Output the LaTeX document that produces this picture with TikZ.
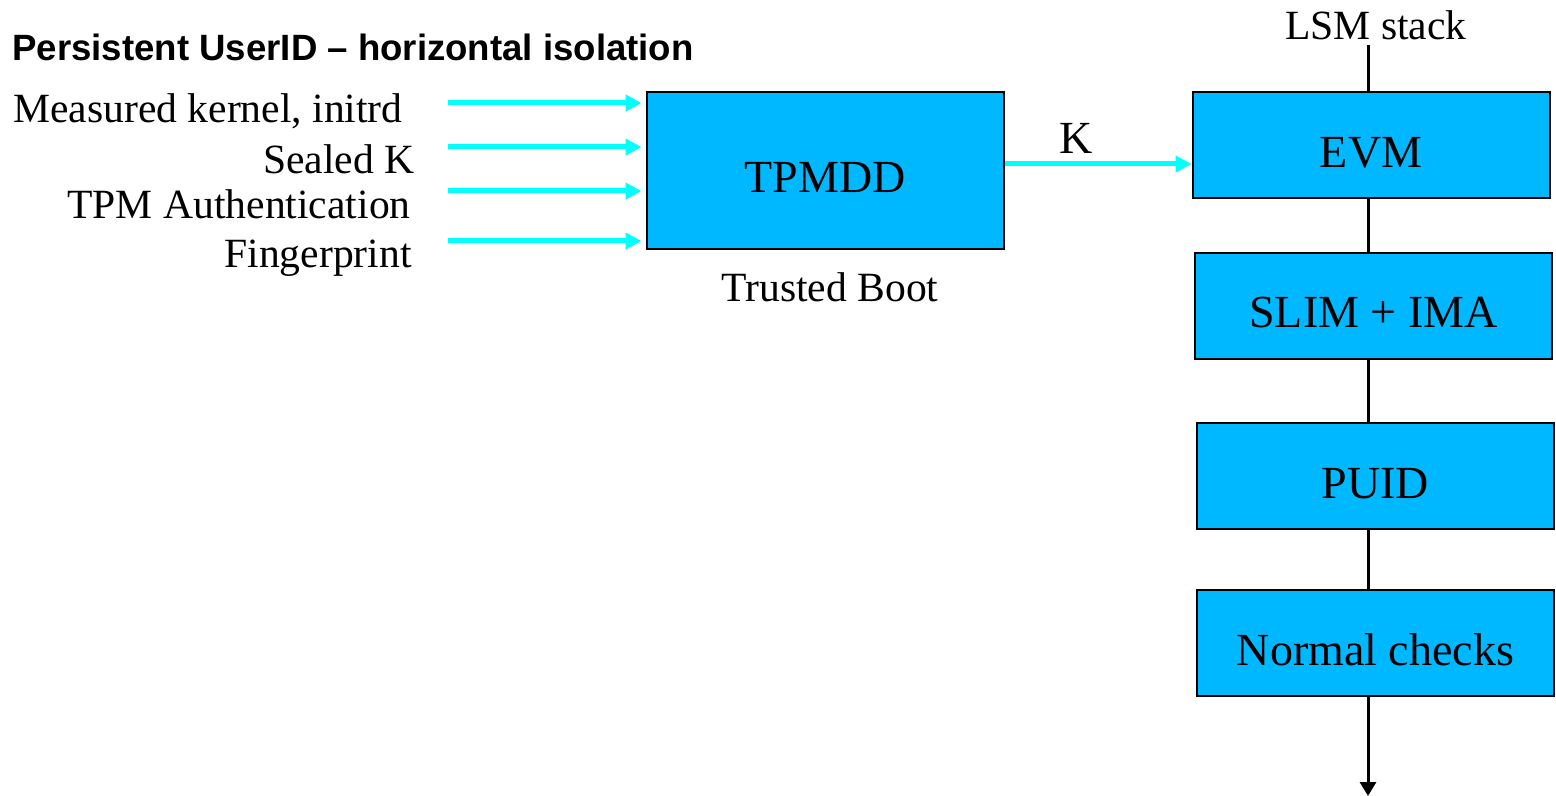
\documentclass[tikz,border=0pt]{standalone}
\usepackage{fontspec}
\setmainfont{Liberation Serif}
\newfontfamily\titlefont{Liberation Sans}
\usepackage{tikz}
\usetikzlibrary{arrows.meta,positioning,calc}
\definecolor{lsmblue}{RGB}{0,184,255}
\definecolor{feedcyan}{RGB}{0,255,255}

\begin{document}
\begin{tikzpicture}[x=0.5pt,y=-0.5pt, every node/.style={font=\fontsize{20.8}{24}\selectfont, inner sep=0pt}]
\tikzset{
  layer/.style={draw, fill=lsmblue, line width=1pt, minimum width=178.5pt, minimum height=53pt,
    text height=22pt, text depth=0pt, font=\fontsize{23}{27}\selectfont},
  feed/.style={feedcyan, line width=2.5pt, -{Triangle[length=8pt,width=8pt]}},
  chain/.style={black, line width=1.5pt}
}
\useasboundingbox (0,0) rectangle (1556,796);

\node[anchor=base west, font=\titlefont\bfseries\fontsize{18.3}{22}\selectfont] (title) at (12,61) {Persistent UserID – horizontal isolation};

% trusted boot
\node[layer, minimum height=78.5pt] (tpmdd) at (825,170.5) {TPMDD};
\node[anchor=base] (boot) at (830,302) {Trusted Boot};

\foreach \name/\y/\xe/\ya/\txt in {meas/123/403/103/{Measured kernel, initrd},seal/174/415/147/Sealed K,auth/219/411/191/TPM Authentication,finger/268/412/241/Fingerprint} {
  \node[anchor=base east] (\name) at (\xe,\y) {\txt};
  \coordinate (\name-in) at (448,\ya);
  \draw[feed, shorten >=2pt] (\name-in) -- (tpmdd.west |- \name-in);
}

% LSM stack
\node[anchor=base] (lsm) at (1376,40) {LSM stack};
\foreach \name/\x/\y/\txt in {evm/1371/145.5/EVM,slim/1373.5/306/SLIM + IMA,puid/1375.5/476/PUID,norm/1375.5/643/Normal checks} {
  \node[layer] (\name) at (\x,\y) {\txt};
}
\coordinate (stacktop) at (1368,45);
\coordinate (stackend) at (1368,796);
\draw[chain] (stacktop) -- (stacktop |- evm.north);
\draw[chain] (stacktop |- evm.south) -- (stacktop |- slim.north);
\draw[chain] (stacktop |- slim.south) -- (stacktop |- puid.north);
\draw[chain] (stacktop |- puid.south) -- (stacktop |- norm.north);
\draw[chain, -{Triangle[length=7pt,width=8pt]}] (stacktop |- norm.south) -- (stackend);

% key handed to EVM
\coordinate (kout) at (1004,164);
\draw[feed] (tpmdd.east |- kout) -- (evm.west |- kout);
\node[font=\fontsize{23}{27}\selectfont] (klabel) at (1076,138) {K};
\end{tikzpicture}
\end{document}
